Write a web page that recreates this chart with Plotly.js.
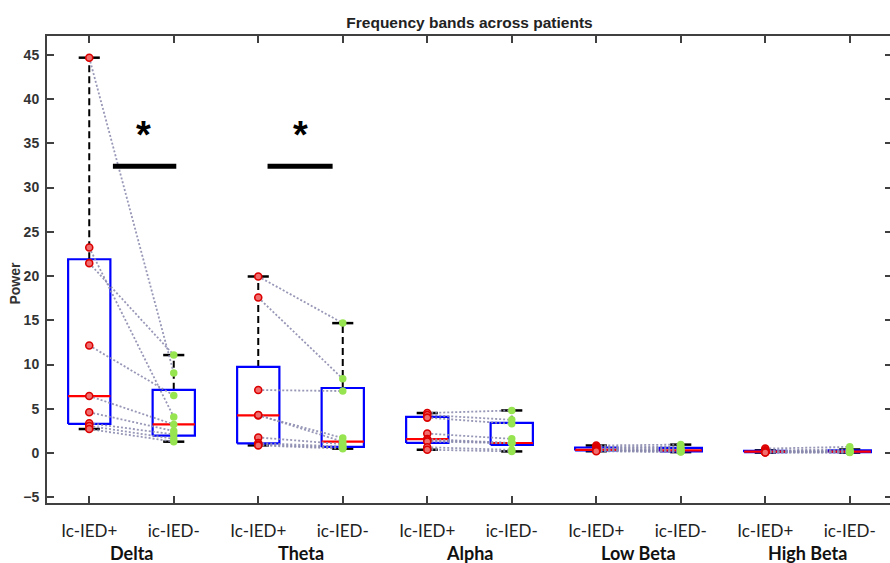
<!DOCTYPE html>
<html>
<head>
<meta charset="utf-8">
<script src="https://cdn.plot.ly/plotly-3.0.1.min.js"></script>
<style>
html,body{margin:0;padding:0;overflow:hidden;background:#fff;}
#chart{position:absolute;left:0;top:0;}
</style>
</head>
<body>
<div id="chart"></div>
<script>
// ---- data (patient-paired values: Ic-IED+ -> ic-IED-) ----
const bands = ['Delta', 'Theta', 'Alpha', 'Low Beta', 'High Beta'];
const conditionLabels = ['Ic-IED+', 'ic-IED-'];

const deltaPos = [44.68, 23.22, 21.46, 12.15, 6.44, 4.61, 3.37, 3.06, 2.71];
const deltaNeg = [9.04, 4.07, 11.07, 6.51, 3.23, 2.48, 2.10, 1.60, 1.28];

const thetaPos = [19.95, 17.57, 7.12, 4.25, 4.30, 1.76, 1.13, 0.95, 0.86];
const thetaNeg = [14.68, 8.39, 7.00, 1.70, 1.28, 1.00, 0.72, 0.60, 0.49];

const alphaPos = [4.52, 4.30, 4.00, 2.20, 1.58, 1.45, 1.30, 0.65, 0.37];
const alphaNeg = [4.81, 3.75, 3.30, 1.60, 1.13, 1.12, 1.10, 0.35, 0.18];

const lowBetaPos = [0.85, 0.70, 0.60, 0.50, 0.35, 0.33, 0.30, 0.25, 0.20];
const lowBetaNeg = [0.95, 0.70, 0.55, 0.40, 0.30, 0.25, 0.20, 0.15, 0.10];

const highBetaPos = [0.50, 0.30, 0.22, 0.18, 0.15, 0.12, 0.10, 0.08, 0.05];
const highBetaNeg = [0.70, 0.40, 0.25, 0.20, 0.16, 0.13, 0.10, 0.08, 0.05];

const yTicks = [-5, 0, 5, 10, 15, 20, 25, 30, 35, 40, 45];

// significance markers
const sigSpans = [[1.28, 2.03], [3.11, 3.88]];
const sigStarX = [1.645, 3.497];
const sigLevel = 32.4;
const starLevel = 35.9;

// ---- helpers ----
const pairs = [
  [deltaPos, deltaNeg], [thetaPos, thetaNeg], [alphaPos, alphaNeg],
  [lowBetaPos, lowBetaNeg], [highBetaPos, highBetaNeg]
];

function prctile(sorted, p) {
  const n = sorted.length;
  const pos = n * p + 0.5; // MATLAB style, 1-based
  if (pos <= 1) return sorted[0];
  if (pos >= n) return sorted[n - 1];
  const lo = Math.floor(pos), f = pos - lo;
  return sorted[lo - 1] + f * (sorted[lo] - sorted[lo - 1]);
}
function stats(arr) {
  const s = arr.slice().sort((a, b) => a - b);
  const q1 = prctile(s, 0.25), med = prctile(s, 0.5), q3 = prctile(s, 0.75);
  const iqr = q3 - q1;
  const hiF = q3 + 1.5 * iqr, loF = q1 - 1.5 * iqr;
  const upper = Math.max(...s.filter(v => v <= hiF));
  const lower = Math.min(...s.filter(v => v >= loF));
  return {q1, med, q3, upper, lower};
}

const BW = 0.25, CW = 0.125;
const boxX = [], boxY = [], medX = [], medY = [], whX = [], whY = [], capX = [], capY = [];
const lnX = [], lnY = [], redX = [], redY = [], grnX = [], grnY = [];
const tickVals = [], tickText = [];

pairs.forEach((pr, b) => {
  pr.forEach((arr, k) => {
    const p = 2 * b + 1 + k;
    tickVals.push(p);
    tickText.push(conditionLabels[k]);
    const st = stats(arr);
    boxX.push(p - BW, p + BW, p + BW, p - BW, p - BW, null);
    boxY.push(st.q1, st.q1, st.q3, st.q3, st.q1, null);
    medX.push(p - BW, p + BW, null);
    medY.push(st.med, st.med, null);
    whX.push(p, p, null, p, p, null);
    whY.push(st.q3, st.upper, null, st.q1, st.lower, null);
    capX.push(p - CW, p + CW, null, p - CW, p + CW, null);
    capY.push(st.upper, st.upper, null, st.lower, st.lower, null);
  });
  const p0 = 2 * b + 1;
  pr[0].forEach((v, i) => {
    lnX.push(p0, p0 + 1, null);
    lnY.push(v, pr[1][i], null);
    redX.push(p0); redY.push(v);
    grnX.push(p0 + 1); grnY.push(pr[1][i]);
  });
});

const traces = [
  {x: whX, y: whY, mode: 'lines', line: {color: '#000', width: 2, dash: '7px,4px'}, hoverinfo: 'skip'},
  {x: capX, y: capY, mode: 'lines', line: {color: '#000', width: 2.5}, hoverinfo: 'skip'},
  {x: boxX, y: boxY, mode: 'lines', line: {color: '#0000ff', width: 2.2}, hoverinfo: 'skip'},
  {x: medX, y: medY, mode: 'lines', line: {color: '#ff0000', width: 2.2}, hoverinfo: 'skip'},
  {x: lnX, y: lnY, mode: 'lines', line: {color: 'rgba(140,140,175,0.9)', width: 1.8, dash: '2px,2px'}, hoverinfo: 'skip'},
  {x: redX, y: redY, mode: 'markers', marker: {size: 7, color: 'rgb(240,110,110)', line: {color: 'rgb(220,0,0)', width: 1.6}}},
  {x: grnX, y: grnY, mode: 'markers', marker: {size: 7.5, color: 'rgb(150,228,80)', line: {width: 0}}}
].map(t => Object.assign({type: 'scatter', showlegend: false}, t));

const annotations = bands.map((name, b) => ({
  x: 2 * b + 1.5, xref: 'x', y: -0.106, yref: 'paper', yanchor: 'middle',
  text: name, showarrow: false,
  font: {family: 'Lato, Open Sans, sans-serif', size: 18, weight: 'bold', color: '#111'}
}));
sigStarX.forEach(x => annotations.push({
  x: x, xref: 'x', y: starLevel, yref: 'y', yanchor: 'middle', text: '*', showarrow: false,
  font: {family: 'Liberation Sans, Arial, sans-serif', size: 38, weight: 'bold', color: '#000'}
}));
annotations.push({
  x: -0.039, xref: 'paper', y: 0.47, yref: 'paper', xanchor: 'center', yanchor: 'middle',
  text: 'Power', textangle: -90, showarrow: false,
  font: {family: 'Liberation Sans, Arial, sans-serif', size: 14, weight: 'bold', color: '#333'}
});

const shapes = sigSpans.map(s => ({
  type: 'line', xref: 'x', yref: 'y', x0: s[0], x1: s[1], y0: sigLevel, y1: sigLevel,
  line: {color: '#000', width: 5}
}));

const axisCommon = {
  showline: true, linecolor: '#404040', linewidth: 2, mirror: 'ticks',
  ticks: 'inside', ticklen: 7, tickwidth: 2, tickcolor: '#404040',
  showgrid: false, zeroline: false
};

const layout = {
  width: 894, height: 563,
  margin: {l: 47, r: 2, t: 36, b: 60},
  paper_bgcolor: '#fff', plot_bgcolor: '#fff',
  font: {family: 'Liberation Sans, Arial, sans-serif', color: '#333'},
  title: {
    text: 'Frequency bands across patients',
    x: 0.5, xref: 'paper', y: 1 - 23 / 563, yref: 'container', yanchor: 'middle',
    font: {family: 'Liberation Sans, Arial, sans-serif', size: 15.5, weight: 'bold', color: '#222'}
  },
  xaxis: Object.assign({}, axisCommon, {
    range: [0.5, 10.5], tickmode: 'array', tickvals: tickVals, ticktext: tickText,
    tickfont: {family: 'Lato, Open Sans, sans-serif', size: 17, color: '#222'},
    ticklabelstandoff: 12
  }),
  yaxis: Object.assign({}, axisCommon, {
    range: [-5.65, 47.13], tickmode: 'array', tickvals: yTicks,
    tickfont: {family: 'Liberation Sans, Arial, sans-serif', size: 14, weight: 'bold', color: '#333'},
    ticklabelstandoff: 3
  }),
  annotations: annotations,
  shapes: shapes
};

Plotly.newPlot('chart', traces, layout, {displayModeBar: false, staticPlot: true});
</script>
</body>
</html>
